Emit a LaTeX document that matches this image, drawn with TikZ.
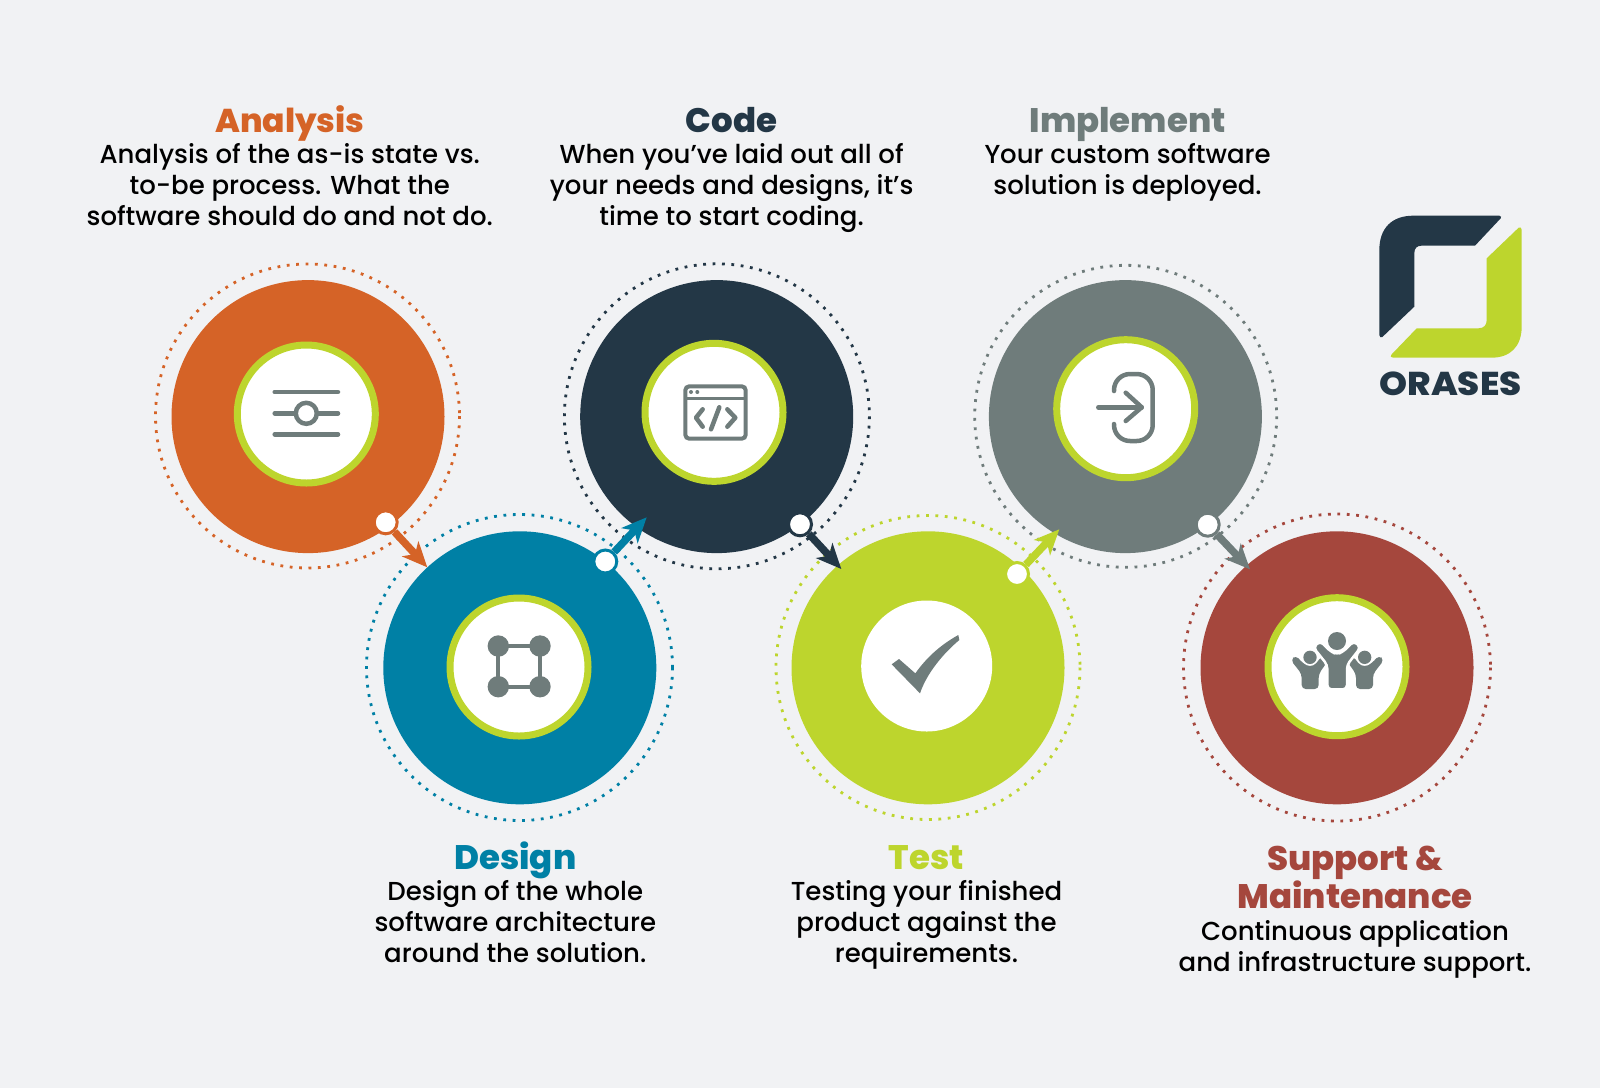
\documentclass[tikz,border=0pt]{standalone}
\usepackage{fontspec}
\setmainfont{Poppins}[UprightFont=* Medium]
\newfontfamily\heavy{Poppins}[UprightFont=* ExtraBold]
\usetikzlibrary{arrows.meta}
\definecolor{bgc}{HTML}{F1F2F4}
\definecolor{orangec}{HTML}{D56327}
\definecolor{bluec}{HTML}{0080A5}
\definecolor{navyc}{HTML}{233746}
\definecolor{greyc}{HTML}{6F7C7B}
\definecolor{limec}{HTML}{BDD52D}
\definecolor{redc}{HTML}{A5473D}
\newcommand{\bstrut}{\rule[-7pt]{0pt}{31pt}}
\tikzset{
 dots/.style={line width=2.8pt,dash pattern=on 2.8pt off 6.6pt},
 bigc/.style={circle,inner sep=0pt,minimum size=273pt},
 ringc/.style={circle,inner sep=0pt,minimum size=138pt,fill=white,draw=limec,line width=7pt},
 plainc/.style={circle,inner sep=0pt,minimum size=131pt,fill=white},
 pin/.style={circle,inner sep=0pt,minimum size=23pt,fill=white,draw=#1,line width=3pt},
 conn/.style={draw=#1,line width=7.5pt,-{Stealth[length=25pt,width=22pt,inset=7pt,fill=#1]}},
 icon/.style={draw=greyc,line width=4.5pt,line cap=round,line join=round},
 iconf/.style={fill=greyc},
 title/.style={font=\heavy\fontsize{34}{38}\selectfont,anchor=base,align=center},
 body/.style={font=\fontsize{26}{31}\selectfont,anchor=center,align=center,text=black,inner sep=0pt,execute at begin node=\bstrut,execute at end node=\bstrut},
 z3/.style={x=0.33333pt,y=-0.33333pt}
}
\begin{document}
\begin{tikzpicture}[x=1pt,y=-1pt]
\fill[bgc] (0,0) rectangle (1600,1088);
\useasboundingbox (0,0) rectangle (1600,1088);
% dotted halos
\draw[dots,orangec] (307.5,416) circle[radius=152];
\draw[dots,bluec] (519.5,667.5) circle[radius=153];
\draw[dots,navyc] (716.9,416.3) circle[radius=152.5];
\draw[dots,limec] (928,667.5) circle[radius=152];
\draw[dots,greyc] (1125.7,416.3) circle[radius=151];
\draw[dots,redc] (1337,667.5) circle[radius=153.5];
% big discs
\node[bigc,fill=orangec] (analysis) at (308,416.6) {};
\node[bigc,fill=bluec] (design) at (519.8,667.8) {};
\node[bigc,fill=navyc] (code) at (716.7,416.6) {};
\node[bigc,fill=limec] (test) at (928,667.8) {};
\node[bigc,fill=greyc] (implement) at (1125.4,416.6) {};
\node[bigc,fill=redc] (support) at (1337,667.8) {};
% inner discs
\node[ringc] (ia) at (306.3,414) {};
\node[ringc] (id) at (519,667) {};
\node[ringc] (ic) at (714,412.3) {};
\node[plainc] (it) at (926.7,666) {};
\node[ringc] (ii) at (1125.7,408.7) {};
\node[ringc] (is) at (1337,666.7) {};
% analysis icon
\draw[icon] (274.7,392) -- (338,392);
\draw[icon] (274.7,434.3) -- (338,434.3);
\draw[icon] (274.7,413.3) -- (338,413.3);
\draw[icon,fill=white] (306.3,413.3) circle[radius=10.5];
% design icon
\draw[greyc,line width=4pt] (498.3,646) rectangle (540,686.7);
\foreach \p in {(498.3,646),(540,646),(498.3,686.7),(540,686.7)} \fill[greyc] \p circle[radius=10.7];
% code icon
\draw[greyc,line width=4pt,rounded corners=4pt] (685.3,386.3) rectangle (745.7,438.7);
\draw[greyc,line width=3.5pt] (685.3,398.3) -- (745.7,398.3);
\fill[greyc] (691,392) circle[radius=2] (697.3,392) circle[radius=2];
\draw[icon] (702.7,409.3) -- (696,417.7) -- (702.7,426.7);
\draw[icon] (727.3,409.3) -- (735.3,417.7) -- (727.3,426.7);
\draw[icon] (719.3,407.3) -- (711,429.3);
% implement icon
\draw[icon] (1098.3,407.3) -- (1141.7,407.3);
\draw[icon] (1125.7,392.7) -- (1141.7,407.3) -- (1125.7,421);
\draw[icon,rounded corners=16pt] (1114,391) -- (1114,374) -- (1152.7,374) -- (1152.7,441) -- (1114,441) -- (1114,424);
% test icon
\begin{scope}[shift={(840,580)},z3]
\fill[greyc] (155,253) -- (177,237) -- (226,280) .. controls (265,225) and (310,190) .. (355,165) -- (358,180) .. controls (310,220) and (260,280) .. (240,340) -- cycle;
\end{scope}
% support icon
\begin{scope}[shift={(1250,580)},z3]
\fill[greyc] (180,232) circle[radius=20] (344,232) circle[radius=20];
\foreach \dx/\sg in {0/1,524/-1}{
\begin{scope}[xshift=\dx*0.33333pt,xscale=\sg]
\fill[greyc,rounded corners=4pt] (122,240) -- (137,226) -- (160,251) -- (180,261) -- (200,251) -- (213,228) -- (232,245) -- (206,282) -- (206,327) -- (155,327) -- (155,282) -- cycle;
\end{scope}}
\filldraw[fill=greyc,draw=white,line width=2.5pt,rounded corners=4pt] (190,202) -- (210,183) -- (245,217) -- (261,222) -- (277,217) -- (312,183) -- (332,202) -- (291,255) -- (291,328) -- (232,328) -- (232,255) -- cycle;
\fill[greyc] (261,183) circle[radius=27];
\end{scope}
% connectors
\node[pin=orangec] (p1) at (385.7,522.3) {};
\node[pin=bluec] (p2) at (605.3,561.5) {};
\node[pin=navyc] (p3) at (800,524.3) {};
\node[pin=limec] (p4) at (1017,574) {};
\node[pin=greyc] (p5) at (1207.7,524.7) {};
\coordinate (t1) at (427.3,567.3);
\coordinate (t2) at (646.7,517.3);
\coordinate (t3) at (841.3,569);
\coordinate (t4) at (1059.3,529.3);
\coordinate (t5) at (1250,569.3);
\draw[conn=orangec] (p1) -- (t1);
\draw[conn=bluec] (p2) -- (t2);
\draw[conn=navyc] (p3) -- (t3);
\draw[conn=limec] (p4) -- (t4);
\draw[conn=greyc] (p5) -- (t5);
% logo
\begin{scope}[shift={(1360,200)},z3]
\fill[navyc] (418,47) .. controls (424,48) and (424,52) .. (422,55) -- (345,137) -- (185,137) .. controls (170,137) and (163,145) .. (163,160) -- (163,320) -- (67,411) .. controls (62,414) and (58,410) .. (58,405) -- (58,150) .. controls (58,85) and (95,47) .. (160,47) -- cycle;
\fill[limec] (476,83) .. controls (481,79) and (485,84) .. (485,90) -- (485,380) .. controls (485,440) and (450,473) .. (395,473) -- (100,473) .. controls (93,473) and (89,469) .. (94,464) -- (170,385) -- (355,385) .. controls (372,385) and (380,375) .. (380,360) -- (380,175) -- cycle;
\end{scope}
\node[font=\heavy\fontsize{33}{38}\selectfont,text=navyc,anchor=center,inner sep=0pt] (logotext) at (1450.5,384) {\scalebox{1.08}[1]{ORASES}};
% texts
\node[title,text=orangec,font=\heavy\fontsize{33}{38}\selectfont] (t-a) at (289.8,132.5) {Analysis};
\node[body] (b-a) at (289.8,187.9) {Analysis of the as-is state vs.\\to-be process. What the\\software should do and not do.};
\node[title,text=navyc] (t-c) at (731.6,132.5) {Code};
\node[body] (b-c) at (731.6,187.9) {When you’ve laid out all of\\your needs and designs, it’s\\time to start coding.};
\node[title,text=greyc] (t-i) at (1127.6,132.5) {Implement};
\node[body] (b-i) at (1127.6,172.4) {Your custom software\\solution is deployed.};
\node[title,text=bluec] (t-d) at (515.3,869) {Design};
\node[body] (b-d) at (515.3,924.6) {Design of the whole\\software architecture\\around the solution.};
\node[title,text=limec] (t-t) at (926.5,869) {Test};
\node[body] (b-t) at (926.5,924.6) {Testing your finished\\product against the\\requirements.};
\node[title,text=redc] (t-s) at (1355,908) {Support \&\\Maintenance};
\node[body] (b-s) at (1355,949.8) {Continuous application\\and infrastructure support.};
\end{tikzpicture}
\end{document}
